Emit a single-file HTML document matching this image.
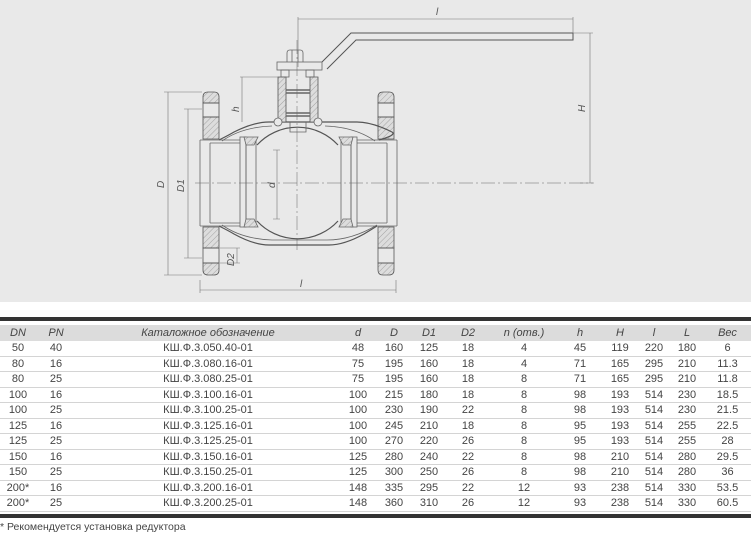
<!DOCTYPE html>
<html><head><meta charset="utf-8"><style>
body{margin:0;width:751px;height:536px;background:#fff;overflow:hidden;font-family:"Liberation Sans",sans-serif;color:#444;position:relative}
#dr{position:absolute;left:0;top:0;width:751px;height:302px;background:#e9e9e9}
.bar{position:absolute;left:0;width:751px;height:4px;background:#333}
table{position:absolute;left:0;top:325px;width:751px;border-collapse:collapse;font-size:11px}
td{height:14.5px;padding:0;text-align:center;border-bottom:1px solid #d4d4d4;line-height:14px}
tr.h td{font-style:italic;background:#dcdcdc;border:none;height:16px}
.note{position:absolute;left:0;top:521px;font-size:10.5px;color:#444}
</style></head><body>
<div id="dr">
<svg width="751" height="302" viewBox="0 0 751 302" xmlns="http://www.w3.org/2000/svg">
<defs><pattern id="hp" width="4" height="4" patternUnits="userSpaceOnUse" patternTransform="rotate(45)"><rect width="4" height="4" fill="#ddd"/><line x1="0" y1="0" x2="0" y2="4" stroke="#888" stroke-width="0.7"/></pattern></defs>
<g fill="none" stroke="#666" stroke-width="0.8">
<!-- center lines -->
<line x1="195" y1="183" x2="593" y2="183" stroke-dasharray="14,3,2,3" stroke-width="0.5"/>
<line x1="297" y1="40" x2="297" y2="250" stroke-dasharray="14,3,2,3" stroke-width="0.5"/>
<!-- flanges -->
<g fill="url(#hp)" stroke="#555">
<path d="M203,97 q0,-5 5,-5 h6 q5,0 5,5 v6 h-16z"/>
<path d="M203,117 h16 v22 h-16z"/>
<path d="M203,227 h16 v21 h-16z"/>
<path d="M203,263 h16 v7 q0,5 -5,5 h-6 q-5,0 -5,-5z"/>
<path d="M378,97 q0,-5 5,-5 h6 q5,0 5,5 v6 h-16z"/>
<path d="M378,117 h16 v22 h-16z"/>
<path d="M378,227 h16 v21 h-16z"/>
<path d="M378,263 h16 v7 q0,5 -5,5 h-6 q-5,0 -5,-5z"/>
</g>
<rect x="203" y="103" width="16" height="14" stroke="#555"/>
<rect x="203" y="248" width="16" height="15" stroke="#555"/>
<rect x="378" y="103" width="16" height="14" stroke="#555"/>
<rect x="378" y="248" width="16" height="15" stroke="#555"/>
<!-- pipes -->
<path d="M200,140 h40 M200,226 h40 M200,140 v86 M210,143 v80 M357,140 h40 M357,226 h40 M397,140 v86 M387,143 v80"/>
<path d="M210,143 h30 M210,223 h30 M357,143 h30 M357,223 h30"/>
<!-- body -->
<path d="M219,140 q10,-5 15,-8 q20,-10 35,-10 h56 M269,122 h12 M313,122 h44 q15,0 35,10 q5,3 -13,8" stroke="#555" stroke-width="1.2"/>
<path d="M222,141 q20,-14 50,-15 M375,141 q-20,-14 -50,-15"/>
<path d="M219,226 q10,5 15,8 q20,11 35,11 h60 q15,0 35,-11 q5,-3 13,-8" stroke="#555" stroke-width="1.2"/>
<path d="M222,225 q20,14 50,15 h55 q25,0 50,-15"/>
<!-- ball -->
<path d="M257,145 A55,55 0 0 1 338,145 M257,221 A55,55 0 0 0 338,221" stroke="#555" stroke-width="1.2"/>
<!-- seats -->
<rect x="240" y="137" width="6" height="90"/><rect x="246" y="140" width="10" height="84"/>
<rect x="351" y="137" width="6" height="90"/><rect x="341" y="140" width="10" height="84"/>
<path d="M244,137 h14 l-4,8 h-8z M244,227 h14 l-4,-8 h-8z M339,137 h14 l-2,8 h-8z M339,227 h14 l-2,-8 h-8z" fill="url(#hp)"/>
<!-- stem -->
<path d="M278,77 h8 v45 h-8z M310,77 h8 v45 h-8z" fill="url(#hp)" stroke="#555"/>
<path d="M286,90 h24 M286,93 h24 M286,113 h24 M286,116 h24" stroke-width="1.4"/>
<path d="M290,122 v10 h16 v-10"/>
<circle cx="278" cy="122" r="4" fill="#e9e9e9"/><circle cx="318" cy="122" r="4" fill="#e9e9e9"/>
<rect x="281" y="70" width="8" height="7"/><rect x="306" y="70" width="8" height="7"/>
<rect x="277" y="62" width="45" height="8"/>
<path d="M287,62 v-9 q0,-3 3,-3 h10 q3,0 3,3 v9 M292,50 v12 M298,50 v12"/>
<!-- handle -->
<path d="M322,62 L351,33 H573 V40 H356 L327,69" stroke="#555" stroke-width="1"/>
</g>
<!-- dimensions -->
<g stroke="#777" stroke-width="0.6" fill="none">
<path d="M298,19 H573 M298,17 v50 M573,17 v16"/>
<path d="M590,33 V183 M573,33 h20 M580,183 h14"/>
<path d="M168,92 V275 M164,92 h38 M164,275 h38"/>
<path d="M188,109 V258 M184,109 h18 M184,258 h18"/>
<path d="M242,77 V122 M240,77 h38"/>
<path d="M277,150 V219 M273,150 h7 M273,219 h7"/>
<path d="M237,248 V263 M220,248 h20 M220,263 h20"/>
<path d="M200,290 H396 M200,280 v13 M396,280 v13"/>
</g>
<g font-family="Liberation Sans,sans-serif" font-size="10" font-style="italic" fill="#555">
<text x="436" y="15">l</text>
<text x="300" y="287" >l</text>
<text x="0" y="0" transform="translate(585,112) rotate(-90)">H</text>
<text x="0" y="0" transform="translate(164,188) rotate(-90)">D</text>
<text x="0" y="0" transform="translate(184,192) rotate(-90)">D1</text>
<text x="0" y="0" transform="translate(239,112) rotate(-90)">h</text>
<text x="0" y="0" transform="translate(275,188) rotate(-90)">d</text>
<text x="0" y="0" transform="translate(234,266) rotate(-90)">D2</text>
</g>
</svg>
</div>
<div class="bar" style="top:317px"></div>
<table>
<colgroup><col style="width:36px"><col style="width:40px"><col style="width:264px"><col style="width:36px"><col style="width:36px"><col style="width:34px"><col style="width:44px"><col style="width:68px"><col style="width:44px"><col style="width:36px"><col style="width:32px"><col style="width:34px"><col></colgroup>
<tr class="h"><td>DN</td><td>PN</td><td>Каталожное обозначение</td><td>d</td><td>D</td><td>D1</td><td>D2</td><td>n (отв.)</td><td>h</td><td>H</td><td>l</td><td>L</td><td>Вес</td></tr>
<tr><td>50</td><td>40</td><td>КШ.Ф.3.050.40-01</td><td>48</td><td>160</td><td>125</td><td>18</td><td>4</td><td>45</td><td>119</td><td>220</td><td>180</td><td>6</td></tr>
<tr><td>80</td><td>16</td><td>КШ.Ф.3.080.16-01</td><td>75</td><td>195</td><td>160</td><td>18</td><td>4</td><td>71</td><td>165</td><td>295</td><td>210</td><td>11.3</td></tr>
<tr><td>80</td><td>25</td><td>КШ.Ф.3.080.25-01</td><td>75</td><td>195</td><td>160</td><td>18</td><td>8</td><td>71</td><td>165</td><td>295</td><td>210</td><td>11.8</td></tr>
<tr><td>100</td><td>16</td><td>КШ.Ф.3.100.16-01</td><td>100</td><td>215</td><td>180</td><td>18</td><td>8</td><td>98</td><td>193</td><td>514</td><td>230</td><td>18.5</td></tr>
<tr><td>100</td><td>25</td><td>КШ.Ф.3.100.25-01</td><td>100</td><td>230</td><td>190</td><td>22</td><td>8</td><td>98</td><td>193</td><td>514</td><td>230</td><td>21.5</td></tr>
<tr><td>125</td><td>16</td><td>КШ.Ф.3.125.16-01</td><td>100</td><td>245</td><td>210</td><td>18</td><td>8</td><td>95</td><td>193</td><td>514</td><td>255</td><td>22.5</td></tr>
<tr><td>125</td><td>25</td><td>КШ.Ф.3.125.25-01</td><td>100</td><td>270</td><td>220</td><td>26</td><td>8</td><td>95</td><td>193</td><td>514</td><td>255</td><td>28</td></tr>
<tr><td>150</td><td>16</td><td>КШ.Ф.3.150.16-01</td><td>125</td><td>280</td><td>240</td><td>22</td><td>8</td><td>98</td><td>210</td><td>514</td><td>280</td><td>29.5</td></tr>
<tr><td>150</td><td>25</td><td>КШ.Ф.3.150.25-01</td><td>125</td><td>300</td><td>250</td><td>26</td><td>8</td><td>98</td><td>210</td><td>514</td><td>280</td><td>36</td></tr>
<tr><td>200*</td><td>16</td><td>КШ.Ф.3.200.16-01</td><td>148</td><td>335</td><td>295</td><td>22</td><td>12</td><td>93</td><td>238</td><td>514</td><td>330</td><td>53.5</td></tr>
<tr><td>200*</td><td>25</td><td>КШ.Ф.3.200.25-01</td><td>148</td><td>360</td><td>310</td><td>26</td><td>12</td><td>93</td><td>238</td><td>514</td><td>330</td><td>60.5</td></tr>
</table>
<div class="bar" style="top:514px"></div>
<div class="note">* Рекомендуется установка редуктора</div>
</body></html>
